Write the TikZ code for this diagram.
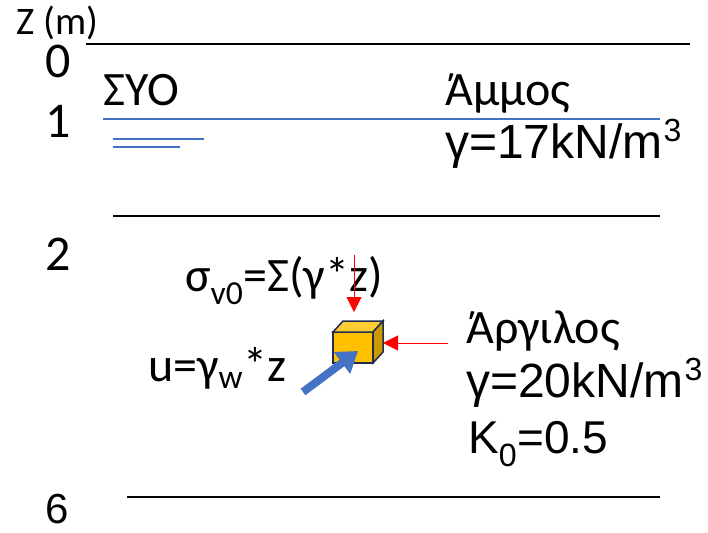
\documentclass[tikz,border=0pt]{standalone}
\usepackage{fontspec}
\setmainfont{Carlito}
\newfontfamily\arialfont{Liberation Sans}
\usetikzlibrary{arrows.meta, positioning}

\definecolor{officeblue}{HTML}{4472C4}
\definecolor{cubefront}{HTML}{FFC000}
\definecolor{cubetop}{HTML}{FFCD33}
\definecolor{cubeside}{HTML}{CC9A00}
\definecolor{cubeedge}{HTML}{1F2D4F}
\newcommand{\cubicm}{m\kern1pt\raisebox{17pt}{\fontsize{32}{34}\selectfont 3}}

\begin{document}
\begin{tikzpicture}[x=1pt, y=-1pt,
  txt/.style={anchor=base west, inner sep=0pt, font=\fontsize{48}{52}\selectfont},
  unitlbl/.style={anchor=base west, inner sep=0pt, font=\arialfont\fontsize{48}{52}\selectfont},
  depthlbl/.style={anchor=base west, inner sep=0pt, font=\fontsize{50}{54}\selectfont},
  layer/.style={line width=1.3pt},
  stress/.style={red, line width=1pt, -{Triangle[length=15pt, width=15pt]}},
  pore/.style={officeblue, line width=8pt, -{Triangle[length=20pt, width=26pt]}}]
\useasboundingbox (0,0) rectangle (708,532);
\draw [layer] (86, 44) -- (690, 44);
\draw [layer, officeblue] (103, 119) -- (660, 119);
\draw [officeblue, line width=1.2pt] (113, 139) -- (204, 139);
\draw [officeblue, line width=1.2pt] (113, 147) -- (180, 147);
\draw [layer] (113, 216) -- (660, 216);
\draw [layer] (127, 497) -- (660, 497);
\node [txt, font=\fontsize{39}{42}\selectfont] (zlabel) at (16, 35) {Z (m)};
\foreach \z/\y in {0/78, 1/137, 2/270} \node [depthlbl] (depth\z) at (45, \y) {\z};
\node [depthlbl, font=\arialfont\fontsize{42}{46}\selectfont] (depth6) at (45, 523) {6};
\node [txt] (syo) at (103, 105) {ΣΥΟ};
\node [txt] (sandname) at (445, 105) {Άμμος};
\node [unitlbl] (sandgamma) at (445, 158) {γ=17kN/\cubicm};
\node [txt] (sigma) at (185, 291) {σ\textsubscript{v0}=Σ(γ*z)};
\node [txt] (pwp) at (148, 381) {u=γ\textsubscript{w}*z};
\node [txt] (clayname) at (466, 343) {Άργιλος};
\node [unitlbl] (claygamma) at (466, 397) {γ=20kN/\cubicm};
\node [txt, font=\arialfont\fontsize{46}{50}\selectfont] (clayk) at (468, 453) {K\textsubscript{0}=0.5};
\filldraw [fill=cubefront, draw=cubeedge, line width=1.5pt] (333, 332) rectangle (373, 363);
\filldraw [fill=cubetop, draw=cubeedge, line width=1.5pt] (333, 332) -- (343, 321) -- (383, 321) -- (373, 332) -- cycle;
\filldraw [fill=cubeside, draw=cubeedge, line width=1.5pt] (373, 332) -- (383, 321) -- (383, 352) -- (373, 363) -- cycle;
\coordinate (cubetopc) at (354, 312);
\coordinate (cuberight) at (383, 343);
\coordinate (cubefrontc) at (358, 351);
\coordinate (vstart) at (354, 255);
\coordinate (hstart) at (448, 343);
\coordinate (ustart) at (303, 392);
\draw [stress] (vstart) -- (cubetopc);
\draw [stress] (hstart) -- (cuberight);
\draw [pore] (ustart) -- (cubefrontc);
\end{tikzpicture}
\end{document}
